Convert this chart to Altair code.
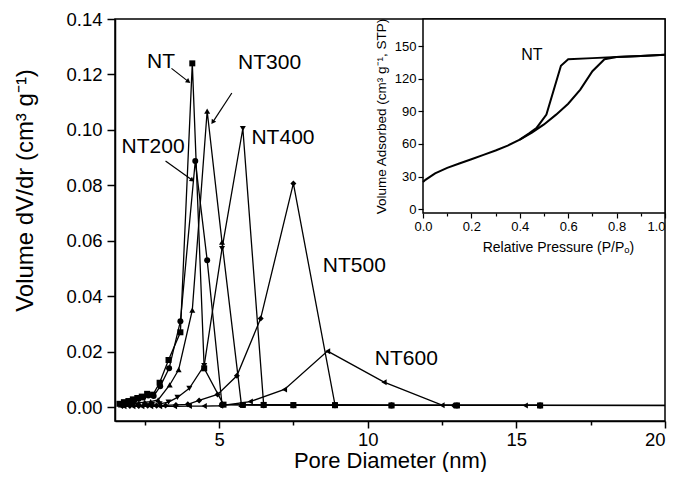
import altair as alt
import pandas as pd

# ---------------- data ----------------
series_names = ["NT", "NT200", "NT300", "NT400", "NT500", "NT600"]

nt_x = [1.65, 1.8, 1.95, 2.1, 2.25, 2.4, 2.58, 2.78, 3.0, 3.3, 3.7, 4.1, 4.5, 5.15, 5.8, 6.5, 7.5, 8.9, 10.8, 13.0, 15.8, 21.0]
nt_y = [0.0012, 0.0018, 0.0022, 0.0028, 0.0033, 0.0038, 0.0048, 0.0045, 0.0088, 0.017, 0.027, 0.124, 0.014, 0.0009, 0.0008, 0.0008, 0.0007, 0.0007, 0.0006, 0.0006, 0.0006, 0.0006]

nt200_x = [1.7, 1.85, 2.0, 2.15, 2.3, 2.45, 2.62, 2.8, 3.02, 3.32, 3.7, 4.2, 4.6, 5.1, 5.8, 6.5, 7.5, 8.9, 10.8, 13.0, 15.8]
nt200_y = [0.001, 0.0015, 0.002, 0.0025, 0.003, 0.0035, 0.0042, 0.004, 0.0075, 0.014, 0.031, 0.0888, 0.053, 0.0009, 0.0008, 0.0007, 0.0007, 0.0007, 0.0006, 0.0006, 0.0006]

nt300_x = [1.7, 1.9, 2.1, 2.3, 2.5, 2.7, 2.95, 3.34, 3.64, 4.1, 4.6, 5.1, 5.75, 6.5, 7.5, 8.9, 10.8, 13.0, 15.8]
nt300_y = [0.0008, 0.001, 0.0012, 0.0015, 0.0018, 0.002, 0.0026, 0.008, 0.0135, 0.035, 0.1068, 0.0595, 0.001, 0.0008, 0.0007, 0.0007, 0.0006, 0.0006, 0.0006]

nt400_x = [1.75, 2.0, 2.25, 2.5, 2.75, 3.0, 3.3, 3.6, 4.0, 4.5, 5.1, 5.8, 6.5, 7.5, 8.9, 10.8, 13.0, 15.8]
nt400_y = [0.0005, 0.0006, 0.0007, 0.0008, 0.001, 0.0012, 0.0018, 0.0035, 0.0068, 0.015, 0.0572, 0.1005, 0.0009, 0.0008, 0.0007, 0.0006, 0.0006, 0.0006]

nt500_x = [1.75, 2.0, 2.3, 2.6, 2.9, 3.2, 3.55, 3.95, 4.33, 4.95, 5.6, 6.4, 7.5, 8.9, 10.8, 12.9, 15.8, 21.0]
nt500_y = [0.0004, 0.0004, 0.0004, 0.0005, 0.0005, 0.0006, 0.0008, 0.001, 0.0024, 0.0046, 0.0113, 0.032, 0.0807, 0.0008, 0.0007, 0.0006, 0.0006, 0.0006]

nt600_x = [1.8, 2.1, 2.4, 2.7, 3.0, 3.5, 4.0, 4.5, 5.05, 6.05, 7.2, 8.65, 10.55, 12.5, 15.3, 21.0]
nt600_y = [0.0003, 0.0003, 0.0003, 0.0003, 0.0003, 0.0003, 0.0004, 0.0004, 0.0005, 0.002, 0.0064, 0.0202, 0.009, 0.0007, 0.0006, 0.0005]

series_x = [nt_x, nt200_x, nt300_x, nt400_x, nt500_x, nt600_x]
series_y = [nt_y, nt200_y, nt300_y, nt400_y, nt500_y, nt600_y]
series_shapes = ["square", "circle", "triangle-up", "triangle-down", "diamond", "triangle-left"]

# curve labels and arrows (data coordinates)
label_text = ["NT", "NT300", "NT200", "NT400", "NT500", "NT600"]
label_x = [3.05, 6.7, 2.78, 7.15, 9.55, 11.3]
label_y = [0.1245, 0.1240, 0.0940, 0.0972, 0.0510, 0.0172]

arrow_x0 = [3.4, 5.43, 3.2]
arrow_y0 = [0.1222, 0.1133, 0.0888]
arrow_x1 = [3.95, 4.8, 4.08]
arrow_y1 = [0.1176, 0.1030, 0.0820]
arrow_angle = [127, 214, 125]

# inset isotherm (NT)
ads_p = [0.0, 0.01, 0.03, 0.05, 0.1, 0.15, 0.2, 0.25, 0.3, 0.35, 0.4, 0.45, 0.5, 0.55, 0.6, 0.65, 0.7, 0.75, 0.8, 0.9, 1.0]
ads_v = [25, 27, 30, 33, 38, 42, 46, 50, 54, 58.5, 64, 70.5, 78, 87, 97, 110, 127, 138, 140, 141, 142]
des_p = [1.0, 0.9, 0.8, 0.7, 0.6, 0.57, 0.51, 0.47, 0.44, 0.4]
des_v = [142, 141, 140, 139, 138, 132, 87, 75, 70, 64]

# ---------------- layout ----------------
FONT = "Liberation Sans"
W, H = 550, 402
X_DOM = [1.5, 20.0]
Y_DOM = [-0.005, 0.14]

IN_L = 308          # inset left edge (px inside plot)
IN_B = 194          # inset bottom edge (px inside plot)
IN_YTOP, IN_YBOT = 175.0, -3.5
k = (IN_YTOP - IN_YBOT) / IN_B
IN_Y_DOM = [IN_YTOP - H * k, IN_YTOP]
IN_X_DOM = [-IN_L / (W - IN_L), 1.0]

rows = []
for name, xs_, ys_ in zip(series_names, series_x, series_y):
    for a, b in zip(xs_, ys_):
        rows.append({"series": name, "d": a, "v": b})
df = pd.DataFrame(rows)

xs = alt.Scale(domain=X_DOM, nice=False, zero=False)
ys = alt.Scale(domain=Y_DOM, nice=False, zero=False)

x_axis = alt.Axis(
    title="Pore Diameter (nm)",
    values=[2.5 * i for i in range(1, 9)],
    labelExpr="datum.value % 5 === 0 ? datum.label : ''",
    labelAlign={"condition": {"test": "datum.value >= 20", "value": "right"}, "value": "center"},
    tickSize={"condition": {"test": "datum.value % 5 === 0", "value": 7}, "value": 4},
    labelFlush=False, labelOverlap=False, grid=False,
    labelFontSize=18.5, titleFontSize=22, labelFont=FONT, titleFont=FONT,
    labelPadding=2, titlePadding=2, domainWidth=1.5, tickWidth=1.5,
    domainColor="black", tickColor="black", labelColor="black", titleColor="black",
    titleFontWeight="normal",
)
y_axis = alt.Axis(
    title="Volume dV/dr (cm³ g⁻¹)",
    values=[i / 100 for i in range(15)],
    labelExpr="round(datum.value*100) % 2 === 0 ? format(datum.value, '.2f') : ''",
    tickSize={"condition": {"test": "round(datum.value*100) % 2 === 0", "value": 8}, "value": 4},
    labelFlush=False, labelOverlap=False, grid=False,
    labelFontSize=18.5, titleFontSize=24, labelFont=FONT, titleFont=FONT,
    labelPadding=5, titlePadding=28, titleY=171, domainWidth=1.5, tickWidth=1.5,
    domainColor="black", tickColor="black", labelColor="black", titleColor="black",
    titleFontWeight="normal",
)

base = alt.Chart(df)
lines = base.mark_line(color="black", strokeWidth=1.3, clip=True).encode(
    x=alt.X("d:Q", scale=xs, axis=x_axis),
    y=alt.Y("v:Q", scale=ys, axis=y_axis),
    detail="series:N",
    order="d:Q",
)
points = base.mark_point(filled=True, color="black", size=36, opacity=1, clip=True).encode(
    x=alt.X("d:Q", scale=xs),
    y=alt.Y("v:Q", scale=ys),
    shape=alt.Shape("series:N", scale=alt.Scale(domain=series_names, range=series_shapes), legend=None),
)

lab_df = pd.DataFrame({"t": label_text, "d": label_x, "v": label_y})
labels = alt.Chart(lab_df).mark_text(font=FONT, fontSize=21, color="black", align="center", baseline="middle").encode(
    x=alt.X("d:Q", scale=xs), y=alt.Y("v:Q", scale=ys), text="t:N"
)

arr_df = pd.DataFrame({"x0": arrow_x0, "y0": arrow_y0, "x1": arrow_x1, "y1": arrow_y1, "ang": arrow_angle})
arrow_lines = alt.Chart(arr_df).mark_rule(color="black", strokeWidth=1.2).encode(
    x=alt.X("x0:Q", scale=xs), y=alt.Y("y0:Q", scale=ys),
    x2="x1:Q", y2="y1:Q",
)
arrow_heads = alt.Chart(arr_df).mark_point(shape="triangle", filled=True, color="black", size=28, opacity=1).encode(
    x=alt.X("x1:Q", scale=xs), y=alt.Y("y1:Q", scale=ys),
    angle=alt.Angle("ang:Q", scale=None),
)

main = alt.layer(lines, points, labels, arrow_lines, arrow_heads)

# ---------------- inset ----------------
iso_rows = [{"p": a, "q": b, "branch": "ads", "i": n} for n, (a, b) in enumerate(zip(ads_p, ads_v))]
iso_rows += [{"p": a, "q": b, "branch": "des", "i": n} for n, (a, b) in enumerate(zip(des_p, des_v))]
iso = pd.DataFrame(iso_rows)

ixs = alt.Scale(domain=IN_X_DOM, nice=False, zero=False)
iys = alt.Scale(domain=IN_Y_DOM, nice=False, zero=False)

ix_axis = alt.Axis(
    orient="bottom", offset=-(H - IN_B), title="Relative Pressure (P/Pₒ)",
    values=[i / 10 for i in range(11)],
    labelExpr="round(datum.value*10) % 2 === 0 ? format(datum.value, '.1f') : ''",
    labelAlign={"condition": {"test": "datum.value >= 1", "value": "right"}, "value": "center"},
    tickSize={"condition": {"test": "round(datum.value*10) % 2 === 0", "value": 5}, "value": 3},
    labelFlush=False, labelOverlap=False, grid=False, domain=False, zindex=1,
    labelFontSize=13, titleFontSize=14, labelFont=FONT, titleFont=FONT,
    labelPadding=2, titlePadding=7, tickWidth=1.2, tickColor="black",
    labelColor="black", titleColor="black", titleFontWeight="normal", titleX=(W - IN_L) / 2 + IN_L + 14,
)
iy_axis = alt.Axis(
    orient="left", offset=-IN_L, title="Volume Adsorbed (cm³ g⁻¹, STP)",
    values=[15 * i for i in range(12)],
    labelExpr="datum.value % 30 === 0 ? datum.label : ''",
    tickSize={"condition": {"test": "datum.value % 30 === 0", "value": 5}, "value": 3},
    labelFlush=False, labelOverlap=False, grid=False, domain=False, zindex=1,
    labelFontSize=13, titleFontSize=13.5, labelFont=FONT, titleFont=FONT,
    labelPadding=2, titlePadding=6, tickWidth=1.2, tickColor="black",
    labelColor="black", titleColor="black", titleFontWeight="normal",
    titleY=IN_B / 2,
)

frame = alt.Chart(pd.DataFrame({"a": [0]})).mark_rect(fill="white", stroke="black", strokeWidth=1.5).encode(
    x=alt.value(IN_L), x2=alt.value(W), y=alt.value(0), y2=alt.value(IN_B)
)
iso_lines = alt.Chart(iso).mark_line(color="black", strokeWidth=2, clip=True).encode(
    x=alt.X("p:Q", scale=ixs, axis=ix_axis),
    y=alt.Y("q:Q", scale=iys, axis=iy_axis),
    detail="branch:N",
    order="i:Q",
)
in_label = alt.Chart(pd.DataFrame({"t": ["NT"], "p": [0.45], "q": [142]})).mark_text(
    font=FONT, fontSize=16, color="black", align="center", baseline="middle"
).encode(x=alt.X("p:Q", scale=ixs), y=alt.Y("q:Q", scale=iys), text="t:N")

inset = alt.layer(frame, iso_lines, in_label)

chart = (
    alt.layer(main, inset)
    .resolve_scale(x="independent", y="independent", shape="independent")
    .resolve_axis(x="independent", y="independent")
    .properties(
        width=W, height=H,
        autosize=alt.AutoSizeParams(type="none"),
        padding={"left": 107, "top": 11, "right": 2, "bottom": 51},
        background="white",
    )
    .configure_view(stroke="black", strokeWidth=1.5)
)

chart.save("out.html", embed_options={"renderer": "svg", "actions": False})
